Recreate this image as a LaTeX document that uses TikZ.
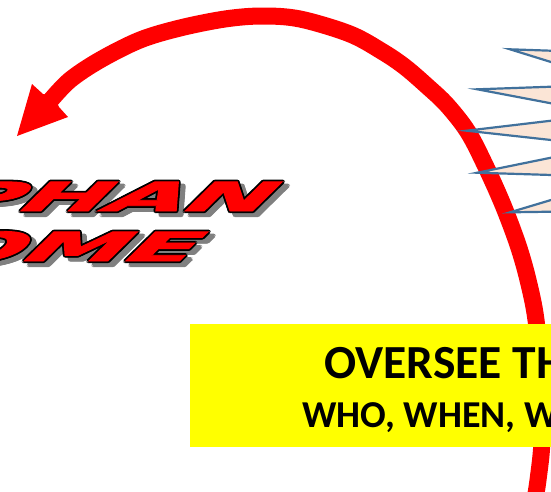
\documentclass[tikz,border=0pt]{standalone}
\usepackage{fontspec}
\setmainfont{Carlito}
\newfontfamily\wafont{DejaVu Sans}[BoldFeatures={FakeBold=2}]
\usetikzlibrary{calc}
\definecolor{arcred}{HTML}{FF0000}
\definecolor{spikeblue}{HTML}{41719C}
\definecolor{spikefill}{HTML}{FBE5D6}
\definecolor{shadowgray}{HTML}{808080}
\definecolor{boxyellow}{HTML}{FFFF00}
\tikzset{
  spike/.style={draw=spikeblue, fill=spikefill, line width=2.2pt},
  wa/.style={font=\wafont\bfseries\fontsize{40}{40}\selectfont, inner sep=0pt,
    anchor=base east, transform shape, xscale=2.55, xslant=0.4},
  bigtitle/.style={font=\bfseries\fontsize{47.5}{47.5}\selectfont, inner sep=0pt, anchor=base west},
  subtitle/.style={font=\bfseries\fontsize{38}{38}\selectfont, inner sep=0pt, anchor=base west}
}
\newcommand\wacopy[5]{%
  \begin{scope}[shift={(#1,#2)}]
    \node (#5) [wa, text=#3] at (0,0) {#4};
  \end{scope}}
\newcommand\wordart[4]{% x y text namebase
  \foreach \dx/\dy [count=\i] in {1.8/0,-1.8/0,0/1.8,0/-1.8,1.3/1.3,1.3/-1.3,-1.3/1.3,-1.3/-1.3}
    {\wacopy{#1+5+\dx}{#2+4+\dy}{shadowgray}{#3}{#4sh\i}}
  \foreach \dx/\dy [count=\i] in {1.8/0,-1.8/0,0/1.8,0/-1.8,1.3/1.3,1.3/-1.3,-1.3/1.3,-1.3/-1.3}
    {\wacopy{#1+\dx}{#2+\dy}{black}{#3}{#4ol\i}}
  \wacopy{#1}{#2}{arcred}{#3}{#4main}}
\begin{document}
\begin{tikzpicture}[x=1pt,y=-1pt]
\useasboundingbox (0,0) rectangle (551,491);
\clip (0,0) rectangle (551,491);
% red curved arrow
\draw[arcred, line width=17pt] plot[smooth, tension=0.55] coordinates {
  (534,505) (538,480) (542,440) (541,380) (536,320) (528,280) (518,245)
  (503,205) (486,167) (468,132) (447,105) (427,86) (405,67) (383,52)
  (350,34) (300,19) (262,16) (225,19) (180,28) (140,40) (100,60) (70,80) (50,101)};
\fill[arcred] (43,94) -- (32,84) -- (17,136) -- (68,117) -- (59,107) -- (54,96) -- cycle;
% starburst spikes
\filldraw[spike] (510,49.3) -- (600,52.4) -- (600,77.2) -- cycle;
\filldraw[spike] (477.3,89.3) -- (600,85) -- (600,112.6) -- cycle;
\filldraw[spike] (466.7,130.7) -- (600,114.9) -- (600,145.4) -- cycle;
\filldraw[spike] (477.3,172.7) -- (600,147.7) -- (600,176.5) -- cycle;
\filldraw[spike] (510,212.3) -- (600,185.3) -- (600,211) -- cycle;
% yellow box
\node (box) [fill=boxyellow, anchor=north west, minimum width=380pt, minimum height=123pt, inner sep=0pt] at (190,324) {};
\node (title) [bigtitle] at (324,378.5) {OVERSEE TH};
\node (sub) [subtitle] at (302,427.5) {WHO, WHEN, W};
% word art
\wordart{262}{211}{ORPHAN}{orphan}
\wordart{187}{261}{HOME}{home}
\end{tikzpicture}
\end{document}
